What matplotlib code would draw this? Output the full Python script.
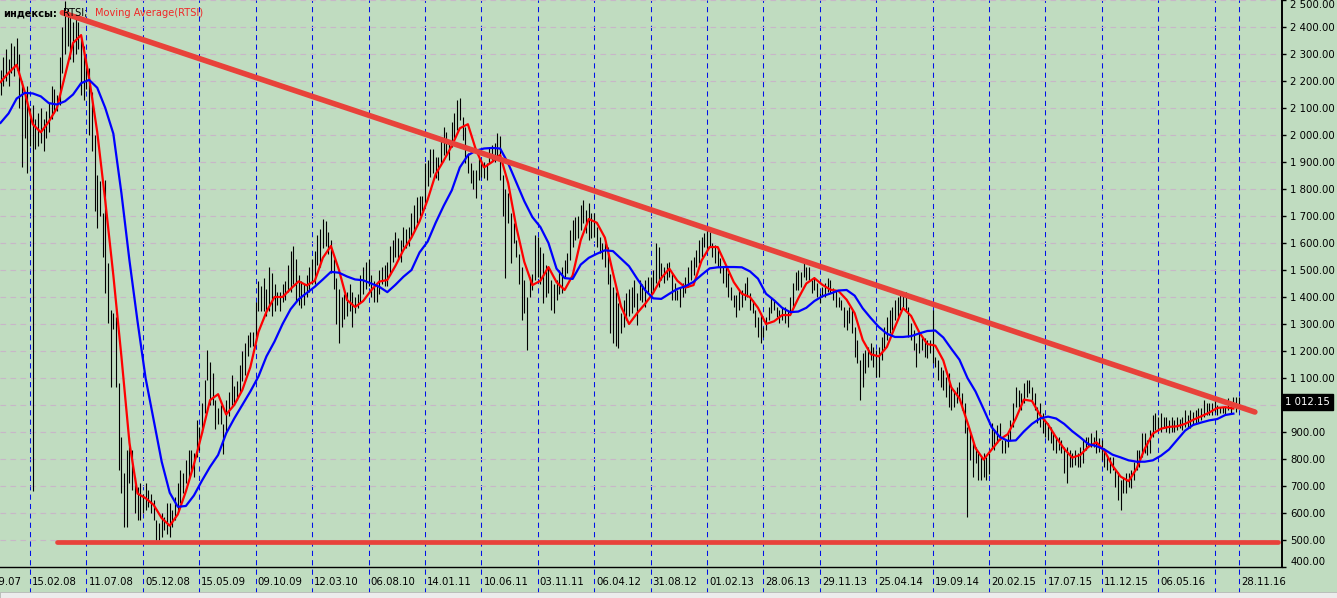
import numpy as np
import matplotlib
matplotlib.use("Agg")
import matplotlib.pyplot as plt
from matplotlib.patches import Rectangle

# weekly RTSI bars (bar 0 ~ 30.11.07, last bar 28.11.16)
highs = [
    2240, 2290, 2320, 2280, 2340, 2330, 2360, 2300, 2200, 2150,
    2180, 2100, 2110, 2060, 2080, 2100, 2060, 2090, 2120, 2180,
    2170, 2150, 2290, 2400, 2495, 2470, 2440, 2420, 2430, 2420,
    2360, 2330, 2280, 2250, 2160, 2000, 1850, 1830, 1710, 1833,
    1525, 1352, 1340, 1327, 1080, 883, 747, 833, 880, 833,
    734, 697, 710, 672, 710, 685, 672, 648, 574, 562,
    599, 586, 636, 636, 611, 660, 710, 759, 747, 796,
    833, 833, 821, 944, 919, 1006, 1092, 1204, 1160, 1120,
    1020, 990, 1000, 930, 1020, 1050, 1110, 1070, 1090, 1150,
    1200, 1230, 1260, 1270, 1270, 1380, 1460, 1440, 1470, 1430,
    1510, 1490, 1450, 1420, 1420, 1450, 1460, 1520, 1570, 1590,
    1540, 1480, 1460, 1450, 1480, 1510, 1540, 1570, 1630, 1650,
    1690, 1680, 1640, 1610, 1540, 1470, 1430, 1400, 1410, 1420,
    1450, 1420, 1400, 1410, 1480, 1510, 1530, 1540, 1480, 1460,
    1450, 1500, 1510, 1520, 1530, 1590, 1610, 1640, 1620, 1610,
    1660, 1650, 1660, 1710, 1740, 1772, 1775, 1775, 1895, 1908,
    1950, 1950, 1920, 1920, 1994, 2031, 2010, 1981, 2049, 2080,
    2130, 2136, 2068, 2031, 1932, 1895, 1870, 1870, 1920, 1907,
    1900, 1895, 1957, 1963, 1970, 2006, 1995, 1850, 1800, 1784,
    1710, 1673, 1611, 1560, 1512, 1463, 1401, 1475, 1487, 1630,
    1623, 1586, 1562, 1520, 1512, 1463, 1450, 1463, 1500, 1512,
    1537, 1562, 1648, 1685, 1698, 1700, 1741, 1760, 1722, 1747,
    1710, 1710, 1660, 1623, 1600, 1599, 1586, 1487, 1438, 1420,
    1377, 1340, 1389, 1414, 1430, 1438, 1463, 1414, 1463, 1450,
    1463, 1475, 1475, 1500, 1599, 1586, 1525, 1512, 1525, 1531,
    1488, 1451, 1426, 1438, 1451, 1475, 1512, 1537, 1549, 1574,
    1611, 1623, 1636, 1648, 1642, 1599, 1593, 1586, 1543, 1512,
    1518, 1488, 1438, 1407, 1407, 1426, 1426, 1451, 1475, 1414,
    1389, 1352, 1327, 1340, 1290, 1327, 1364, 1401, 1389, 1364,
    1352, 1364, 1364, 1352, 1401, 1451, 1494, 1500, 1494, 1525,
    1512, 1512, 1463, 1475, 1451, 1414, 1438, 1451, 1469, 1463,
    1432, 1426, 1401, 1389, 1364, 1352, 1364, 1352, 1290, 1241,
    1166, 1191, 1204, 1216, 1228, 1216, 1204, 1216, 1253, 1290,
    1327, 1352, 1364, 1389, 1401, 1414, 1414, 1420, 1364, 1302,
    1278, 1228, 1265, 1253, 1247, 1241, 1241, 1352, 1179, 1167,
    1142, 1130, 1105, 1117, 1068, 1056, 1068, 1086, 1043, 1006,
    920, 895, 864, 846, 821, 809, 821, 809, 821, 932,
    907, 926, 932, 870, 870, 895, 944, 1006, 1068, 1056,
    1043, 1080, 1093, 1093, 1068, 1043, 994, 1006, 969, 944,
    932, 920, 895, 883, 883, 870, 846, 846, 833, 821,
    833, 821, 846, 870, 883, 883, 895, 883, 907, 878,
    870, 840, 815, 809, 808, 759, 753, 722, 734, 747,
    747, 759, 790, 834, 834, 895, 895, 870, 907, 963,
    969, 957, 969, 957, 957, 944, 957, 944, 957, 950,
    957, 981, 963, 981, 975, 981, 988, 988, 1018, 1006,
    1006, 1006, 1018, 1000, 994, 994, 994, 1025, 1006, 1031,
    1031, 1031,
]
lows = [
    2150, 2180, 2200, 2180, 2230, 2220, 2240, 2100, 1880, 1990,
    1860, 1960, 680, 1950, 1960, 1970, 1940, 1990, 2010, 2060,
    2080, 2090, 2110, 2230, 2300, 2330, 2280, 2270, 2300, 2320,
    2150, 2130, 2170, 2000, 1940, 1720, 1654, 1700, 1549, 1413,
    1302, 1068, 1280, 1068, 759, 673, 549, 549, 710, 685,
    599, 574, 574, 599, 611, 624, 599, 574, 500, 500,
    512, 537, 524, 512, 549, 574, 611, 636, 673, 710,
    734, 759, 734, 808, 833, 895, 969, 1092, 1000, 1000,
    910, 930, 930, 820, 900, 960, 1000, 1000, 1020, 1050,
    1090, 1110, 1180, 1215, 1220, 1240, 1350, 1350, 1350, 1330,
    1350, 1330, 1350, 1370, 1350, 1380, 1390, 1420, 1420, 1450,
    1380, 1370, 1360, 1370, 1400, 1420, 1450, 1450, 1520, 1510,
    1580, 1590, 1560, 1490, 1430, 1300, 1230, 1290, 1320, 1330,
    1350, 1290, 1340, 1360, 1380, 1410, 1430, 1440, 1400, 1380,
    1380, 1410, 1450, 1440, 1440, 1480, 1530, 1550, 1540, 1530,
    1586, 1580, 1590, 1623, 1640, 1673, 1700, 1720, 1747, 1810,
    1846, 1858, 1840, 1833, 1895, 1926, 1930, 1907, 1957, 1990,
    2019, 2056, 1981, 1895, 1858, 1821, 1800, 1765, 1833, 1846,
    1840, 1833, 1895, 1907, 1900, 1920, 1833, 1700, 1470, 1673,
    1525, 1599, 1549, 1450, 1315, 1340, 1204, 1401, 1426, 1463,
    1475, 1450, 1377, 1400, 1414, 1352, 1340, 1389, 1410, 1414,
    1475, 1488, 1537, 1586, 1611, 1620, 1648, 1673, 1636, 1611,
    1620, 1623, 1586, 1562, 1540, 1512, 1450, 1265, 1228, 1220,
    1210, 1265, 1290, 1315, 1330, 1340, 1364, 1296, 1389, 1380,
    1364, 1414, 1401, 1414, 1451, 1438, 1463, 1451, 1463, 1475,
    1389, 1389, 1389, 1364, 1401, 1414, 1438, 1463, 1481, 1512,
    1525, 1549, 1586, 1574, 1586, 1549, 1525, 1512, 1488, 1451,
    1438, 1401, 1389, 1364, 1327, 1352, 1364, 1389, 1401, 1352,
    1340, 1290, 1253, 1228, 1253, 1278, 1315, 1340, 1352, 1327,
    1302, 1315, 1302, 1290, 1340, 1364, 1426, 1426, 1438, 1475,
    1463, 1463, 1414, 1426, 1401, 1377, 1401, 1401, 1420, 1414,
    1389, 1364, 1364, 1352, 1290, 1278, 1302, 1265, 1179, 1154,
    1018, 1068, 1117, 1142, 1166, 1142, 1105, 1105, 1167, 1204,
    1241, 1265, 1278, 1315, 1327, 1352, 1364, 1352, 1253, 1241,
    1204, 1142, 1191, 1204, 1179, 1173, 1191, 1154, 1142, 1093,
    1068, 1056, 1031, 994, 981, 994, 1006, 1018, 981, 895,
    586, 796, 734, 784, 722, 722, 734, 722, 746, 846,
    833, 858, 870, 821, 821, 846, 870, 920, 994, 994,
    981, 1006, 1031, 1043, 1018, 981, 932, 920, 895, 883,
    870, 858, 833, 821, 833, 821, 747, 710, 772, 772,
    778, 772, 772, 784, 833, 846, 846, 846, 821, 827,
    796, 772, 759, 747, 759, 698, 648, 611, 673, 673,
    698, 692, 722, 759, 772, 809, 821, 815, 821, 883,
    907, 907, 901, 914, 901, 895, 901, 901, 907, 914,
    907, 920, 914, 914, 926, 932, 938, 944, 957, 963,
    963, 963, 975, 963, 969, 969, 963, 981, 969, 994,
    975, 1000,
]

# moving averages, read every 3rd bar
ma_step = 3
ma_fast = [
    2196, 2230, 2260, 2160, 2040, 2010, 2050, 2100, 2220, 2341,
    2370, 2210, 2011, 1755, 1480, 1180, 860, 672, 655, 630,
    581, 553, 595, 680, 780, 895, 1018, 1040, 965, 1000,
    1055, 1140, 1270, 1345, 1400, 1400, 1430, 1458, 1443, 1460,
    1545, 1589, 1500, 1389, 1363, 1385, 1425, 1457, 1463, 1515,
    1574, 1620, 1680, 1760, 1855, 1905, 1960, 2025, 2040, 1945,
    1880, 1900, 1926, 1822, 1660, 1530, 1444, 1460, 1511, 1455,
    1426, 1480, 1610, 1689, 1675, 1620, 1490, 1365, 1300, 1340,
    1375, 1415, 1470, 1505, 1460, 1435, 1444, 1535, 1585, 1585,
    1520, 1455, 1412, 1400, 1360, 1300, 1310, 1333, 1333, 1395,
    1450, 1470, 1445, 1427, 1422, 1390, 1340, 1241, 1188, 1180,
    1215, 1289, 1359, 1330, 1270, 1226, 1220, 1165, 1065, 1025,
    935, 840, 798, 835, 872, 892, 950, 1020, 1015, 963,
    928, 880, 838, 805, 815, 845, 862, 830, 775, 735,
    718, 765, 838, 894, 912, 919, 921, 930, 945, 958,
    972, 989, 992, 987,
]
ma_slow = [
    2045, 2080, 2135, 2156, 2154, 2143, 2118, 2113, 2125, 2150,
    2192, 2204, 2175, 2100, 2005, 1785, 1535, 1310, 1100, 945,
    790, 675, 623, 626, 665, 720, 771, 815, 895, 950,
    1000, 1050, 1105, 1180, 1235, 1300, 1355, 1392, 1415, 1438,
    1465, 1493, 1490, 1476, 1465, 1462, 1450, 1438, 1418, 1445,
    1475, 1500, 1565, 1605, 1675, 1738, 1795, 1880, 1925, 1942,
    1950, 1952, 1950, 1895, 1825, 1755, 1696, 1659, 1600, 1505,
    1470, 1467, 1520, 1545, 1560, 1573, 1570, 1542, 1514, 1468,
    1425, 1395, 1393, 1412, 1430, 1440, 1456, 1482, 1506, 1510,
    1511, 1511, 1510, 1495, 1468, 1412, 1388, 1360, 1344, 1346,
    1360, 1385, 1403, 1413, 1424, 1426, 1405, 1358, 1322, 1289,
    1264, 1252, 1252, 1255, 1265, 1274, 1276, 1250, 1208, 1168,
    1100, 1050, 985, 918, 882, 867, 869, 902, 930, 950,
    957, 950, 930, 903, 880, 855, 848, 835, 816, 806,
    795, 790, 790, 795, 812, 835, 870, 905, 926, 935,
    943, 948, 963, 968,
]

last_price = 1012.15

# hand-drawn trend lines (bar index, price)
resistance = ([23, 467], [2453, 974])
support = ([21, 475.5], [492, 492])

date_labels = ['21.09.07', '15.02.08', '11.07.08', '05.12.08', '15.05.09',
               '09.10.09', '12.03.10', '06.08.10', '14.01.11', '10.06.11',
               '03.11.11', '06.04.12', '31.08.12', '01.02.13', '28.06.13',
               '29.11.13', '25.04.14', '19.09.14', '20.02.15', '17.07.15',
               '11.12.15', '06.05.16', '']
last_label = '28.11.16'

bg = '#c0dcc0'
font = 'DejaVu Sans'
fs = 7.3

n = min(len(highs), len(lows))
bars = np.arange(n)

fig = plt.figure(figsize=(13.37, 5.98), dpi=100, facecolor=bg)
ax = fig.add_axes([0, 1 - 567 / 598, 1282 / 1337, 567 / 598])
ax.set_facecolor(bg)
ax.set_xlim(-0.2, 477.1)
ax.set_ylim(400, 2500)

# grid
yticks = np.arange(400, 2501, 100)
ax.set_yticks(yticks)
ax.grid(axis='y', color='#c8b6c8', linestyle=(0, (5, 4)), linewidth=0.8, zorder=0)
grid_bars = [11 + 21 * k for k in range(-1, len(date_labels) - 1)] + [n - 1]
grid_text = date_labels + [last_label]
vg = ax.vlines(grid_bars, -0.045, 1, transform=ax.get_xaxis_transform(),
               colors='#0010e8', linestyles=(0, (5, 4)), linewidth=0.75,
               clip_on=False, zorder=1)
vg.set_snap(True)
for gb, lab in zip(grid_bars, grid_text):
    if lab:
        ax.annotate(lab, (gb, 0), xycoords=('data', 'axes fraction'),
                    xytext=(1.5, -7.5), textcoords='offset points',
                    ha='left', va='top', fontsize=fs, family=font,
                    color='black', annotation_clip=False)

# price bars
ax.vlines(bars, lows[:n], highs[:n], colors='black', linewidth=0.8, zorder=2)

# moving averages
ma_x = np.arange(len(ma_fast)) * ma_step
ax.plot(ma_x, ma_fast, color='#ff0000', linewidth=1.6, zorder=3)
ma_x2 = np.arange(len(ma_slow)) * ma_step
ax.plot(ma_x2, ma_slow, color='#0000ff', linewidth=1.6, zorder=3)

# trend lines
ax.plot(*resistance, color='#e8423a', linewidth=4.0, solid_capstyle='round', zorder=4)
ax.plot(*support, color='#e8423a', linewidth=3.4, solid_capstyle='round', zorder=4)

# axes look
for side in ['left', 'top']:
    ax.spines[side].set_visible(False)
ax.spines['right'].set_linewidth(1.4)
ax.spines['bottom'].set_linewidth(1.0)
ax.set_xticks([])
ax.yaxis.tick_right()
ax.tick_params(axis='y', direction='out', length=3, width=1, pad=3,
               labelsize=fs, colors='black')
# the 1 000.00 label sits under the last-price box in the terminal
ylabels = ['' if abs(v - last_price) < 30 else f"{v:,.2f}".replace(',', ' ')
           for v in yticks]
ax.set_yticklabels(ylabels, family=font)
tl = ax.get_yticklabels()
tl[0].set_va('bottom')
tl[-1].set_va('top')

# last price marker
ax.text(1.0025, last_price, f"{last_price:,.2f}".replace(',', ' '),
        transform=ax.get_yaxis_transform(), ha='left', va='center',
        fontsize=fs, family=font, color='white', clip_on=False, zorder=6,
        bbox=dict(boxstyle='square,pad=0.3', facecolor='black', edgecolor='black'))

# legend line at the top
ty = 1 - 13 / 598
fig.text(3 / 1337, ty, 'индексы:', fontsize=7.1, fontweight='bold',
         family=font, va='center', ha='left', color='black')
fig.text(63 / 1337, ty, 'RTSI;', fontsize=7.1, family=font, va='center',
         ha='left', color='black')
fig.text(95 / 1337, ty, 'Moving Average(RTSI)', fontsize=7.1, family=font,
         va='center', ha='left', color='#f02828')

# scrollbar strip at the very bottom
fig.patches.append(Rectangle((0, 0), 1, 6 / 598, transform=fig.transFigure,
                             facecolor='#ececec', edgecolor='#b0b0b0',
                             linewidth=0.5, zorder=0))

fig.savefig('out.png', dpi=100, facecolor=bg)
